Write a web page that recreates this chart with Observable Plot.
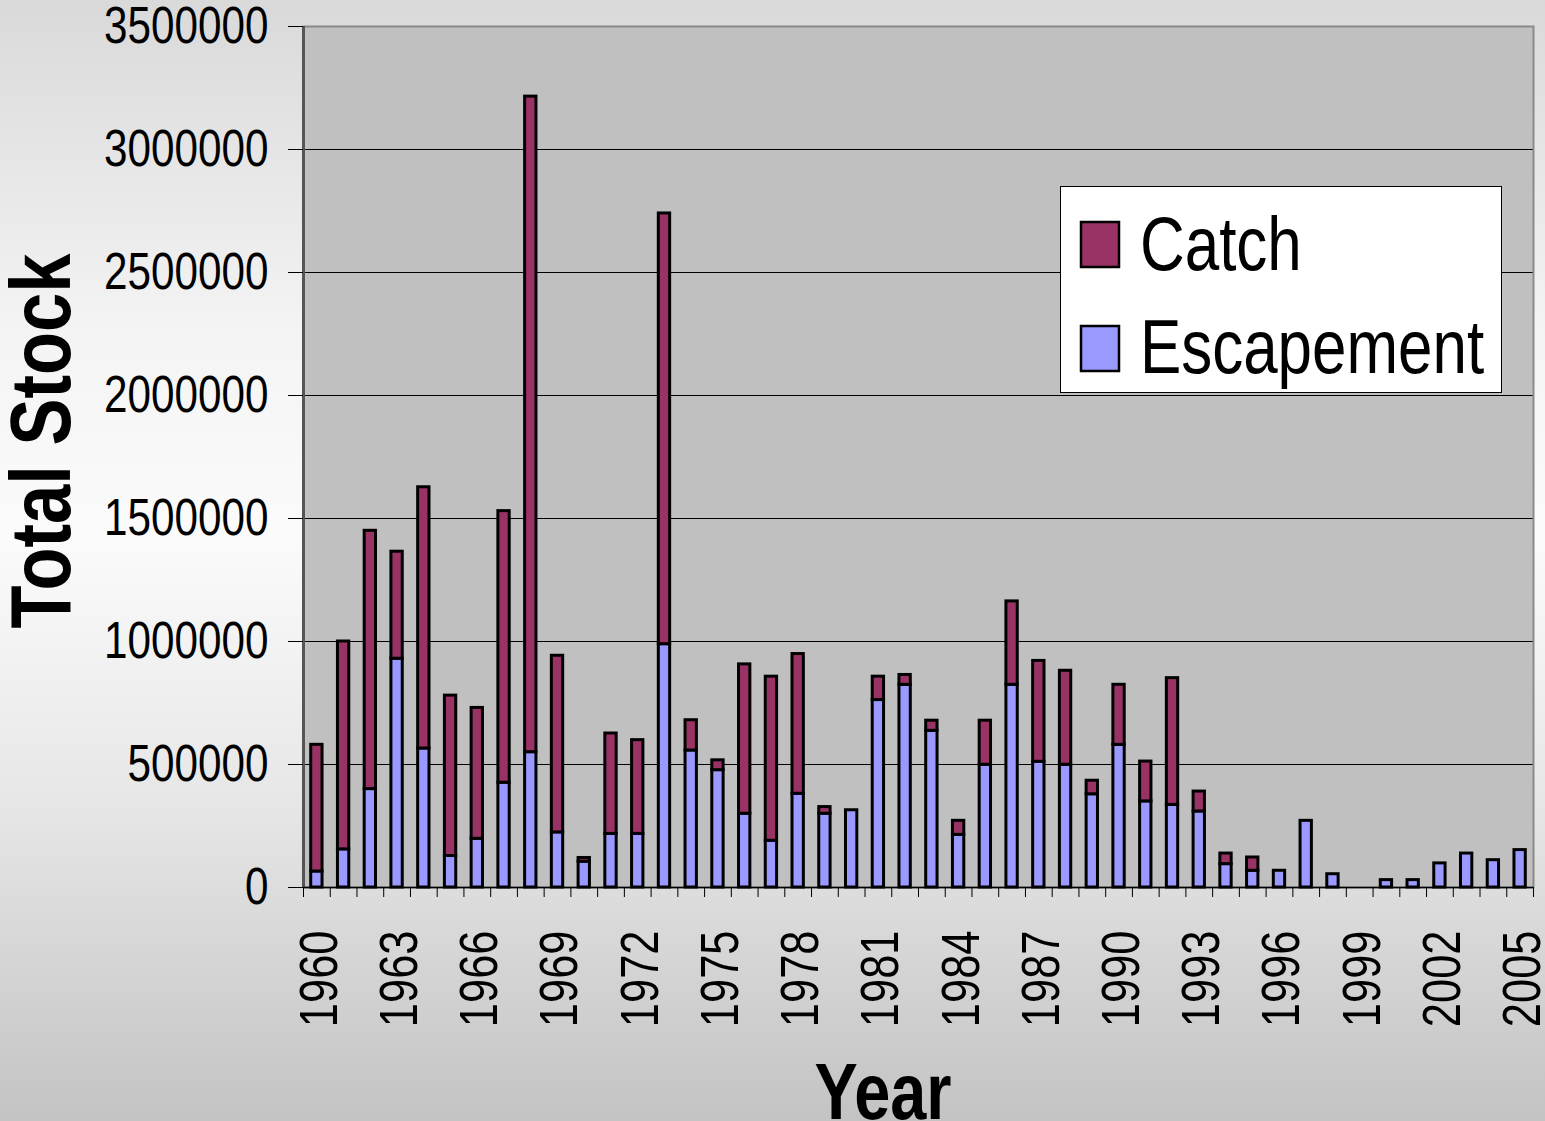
<!DOCTYPE html>
<html>
<head>
<meta charset="utf-8">
<script src="https://cdn.jsdelivr.net/npm/d3@7"></script>
<script src="https://cdn.jsdelivr.net/npm/@observablehq/plot@0.6"></script>
<style>
  html, body { margin: 0; padding: 0; }
  #wrap {
    position: relative; width: 1545px; height: 1121px; overflow: hidden;
    background: linear-gradient(to bottom, #d9d9d9 0%, #f4f4f4 30%, #fbfbfb 48%, #e6e6e6 72%, #c3c3c3 100%);
  }
  #wrap svg { position: absolute; left: 0; top: 0; }
</style>
</head>
<body>
<div id="wrap"></div>
<script>
// ---- data ----
const years = [1960,1961,1962,1963,1964,1965,1966,1967,1968,1969,
               1970,1971,1972,1973,1974,1975,1976,1977,1978,1979,
               1980,1981,1982,1983,1984,1985,1986,1987,1988,1989,
               1990,1991,1992,1993,1994,1995,1996,1997,1998,1999,
               2000,2001,2002,2003,2004,2005];
const escapement = [65000,155000,400000,930000,565000,128000,198000,426000,550000,224000,
                    105000,218000,218000,989000,557000,477000,300000,190000,381000,300000,
                    314000,762000,824000,637000,214000,499000,824000,511000,499000,379000,
                    580000,350000,336000,309000,95000,68000,68000,271000,54000,0,
                    30000,30000,98000,138000,111000,152000];
const catchValues = [515000,845000,1050000,435000,1062000,652000,532000,1104000,2665000,718000,
                     15000,408000,381000,1751000,123000,40000,607000,667000,568000,27000,
                     0,95000,40000,41000,57000,179000,339000,410000,382000,55000,
                     244000,162000,515000,81000,43000,54000,0,0,0,0,
                     0,0,0,0,0,0];
const seriesNames = ["Catch", "Escapement"];
const seriesColors = ["#993366", "#9999ff"];
const yTicks = [0,500000,1000000,1500000,2000000,2500000,3000000,3500000];
const xTickLabels = [1960,1963,1966,1969,1972,1975,1978,1981,1984,1987,1990,1993,1996,1999,2002,2005];

// ---- font handling ----
function hasFont(name) {
  const c = document.createElement("canvas").getContext("2d");
  const s = "Escapement 1234567 Total Stock";
  c.font = "40px monospace"; const a = c.measureText(s).width;
  c.font = `40px "${name}", monospace`; const b = c.measureText(s).width;
  return Math.abs(a - b) > 0.5;
}
const narrow = hasFont("Liberation Sans Narrow");
const FONT = narrow ? '"Liberation Sans Narrow", "Arial Narrow", sans-serif' : '"Liberation Sans", Arial, sans-serif';

// ---- table ----
const rows = [];
years.forEach((yr, i) => {
  if (escapement[i] > 0) rows.push({year: yr, series: "Escapement", value: escapement[i]});
});
years.forEach((yr, i) => {
  if (catchValues[i] > 0) rows.push({year: yr, series: "Catch", value: catchValues[i]});
});
const boundaries = years.map(y => y - 0.5).concat([years[years.length - 1] + 0.5]);
const xDomain = [years[0] - 0.5, years[years.length - 1] + 0.5];

const chart = Plot.plot({
  width: 1545,
  height: 1121,
  marginLeft: 303,
  marginRight: 12,
  marginTop: 26,
  marginBottom: 234,
  style: {background: "transparent", fontFamily: FONT, color: "black", overflow: "visible"},
  x: {type: "linear", domain: xDomain, axis: null, label: null},
  y: {domain: [0, 3500000], axis: null, label: null},
  color: {domain: seriesNames, range: seriesColors},
  marks: [
    Plot.frame({fill: "#c0c0c0"}),
    Plot.gridY(yTicks, {stroke: "black", strokeOpacity: 1, strokeWidth: 1}),
    Plot.frame({stroke: "#8a8a8a", strokeWidth: 2}),
    Plot.rectY(rows, {
      x1: d => d.year - 0.5, x2: d => d.year + 0.5, y: "value",
      fill: "series", stroke: "black", strokeWidth: 3,
      insetLeft: 7.7, insetRight: 7.7,
      order: ["Escapement", "Catch"]
    }),
    Plot.ruleX([xDomain[0]], {stroke: "#555", strokeWidth: 3}),
    Plot.ruleY([0], {stroke: "black", strokeWidth: 1.5}),
    Plot.axisY(yTicks, {tickSize: 15, tickPadding: 20, fontSize: 51.5, tickFormat: d3.format("d"), stroke: "black", label: null}),
    Plot.axisX(boundaries, {tickSize: 10, tickFormat: () => "", stroke: "black", label: null}),
    Plot.axisX(xTickLabels, {tickSize: 0, tickRotate: -90, tickPadding: 43, fontSize: 53, tickFormat: d => String(d), dx: 3, label: null})
  ]
});

const wrap = document.getElementById("wrap");
wrap.appendChild(chart);

// ---- overlay: axis titles and legend ----
const ov = d3.select(wrap).append("svg")
  .attr("width", 1545).attr("height", 1121)
  .style("font-family", FONT);

ov.append("text")
  .attr("transform", "translate(70,441) rotate(-90)")
  .attr("text-anchor", "middle")
  .attr("font-weight", "bold")
  .attr("font-size", 86)
  .text("Total Stock");

ov.append("text")
  .attr("x", 883).attr("y", 1119)
  .attr("text-anchor", "middle")
  .attr("font-weight", "bold")
  .attr("font-size", 79)
  .text("Year");

const lg = ov.append("g");
lg.append("rect").attr("x", 1060.5).attr("y", 186.5).attr("width", 441).attr("height", 206)
  .attr("fill", "white").attr("stroke", "black").attr("stroke-width", 1);
const legendRows = [{name: seriesNames[0], color: seriesColors[0], top: 222, base: 270},
                    {name: seriesNames[1], color: seriesColors[1], top: 326, base: 373}];
legendRows.forEach(r => {
  lg.append("rect").attr("x", 1081).attr("y", r.top).attr("width", 38).attr("height", 45)
    .attr("fill", r.color).attr("stroke", "black").attr("stroke-width", 2.5);
  lg.append("text").attr("x", 1140).attr("y", r.base).attr("font-size", 75.5).text(r.name);
});

if (!narrow) {
  wrap.querySelectorAll("text").forEach(t => {
    const L = t.getComputedTextLength();
    if (L > 0) {
      t.setAttribute("textLength", (L * 0.82).toFixed(1));
      t.setAttribute("lengthAdjust", "spacingAndGlyphs");
    }
  });
}
</script>
</body>
</html>
